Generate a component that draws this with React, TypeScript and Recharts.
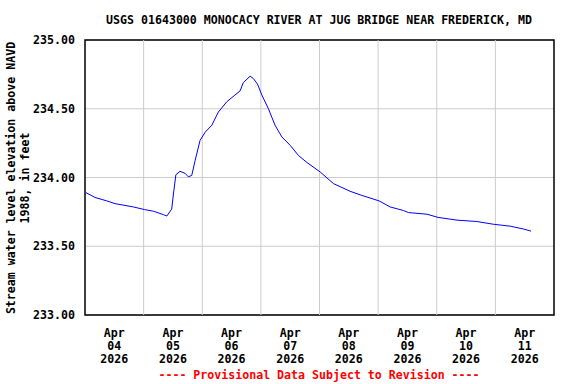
import React from "react";
import {
  LineChart,
  Line,
  XAxis,
  YAxis,
  CartesianGrid,
  ReferenceLine,
  ReferenceArea,
} from "recharts";

// hours since Apr 04 2026 00:00
const hours = [
  0.4, 4.1, 8.9, 12.3, 19.8, 24.3, 28, 32.1, 33.5, 35.5, 36.2, 37.2, 38.9, 41,
  42.3, 43.7, 45.1, 47.1, 49.2, 51.9, 54.6, 58, 61.4, 63.5, 64.8, 67.6, 68.9,
  70.6, 72.4, 75.1, 77.8, 80.6, 84, 87.4, 90.8, 96.3, 101.7, 108.5, 113.3,
  120.4, 124.9, 130.4, 132.4, 140, 144.5, 152.3, 160.4, 167.2, 174.1, 179.6,
  182.6,
];
const elevation = [
  233.89, 233.855, 233.83, 233.81, 233.786, 233.767, 233.755, 233.73, 233.72,
  233.77, 233.88, 234.02, 234.045, 234.03, 234.005, 234.015, 234.125, 234.27,
  234.33, 234.38, 234.476, 234.55, 234.6, 234.63, 234.69, 234.737, 234.72,
  234.68, 234.6, 234.5, 234.38, 234.295, 234.234, 234.16, 234.11, 234.04,
  233.956, 233.9, 233.87, 233.83, 233.786, 233.76, 233.745, 233.733, 233.71,
  233.69, 233.68, 233.66, 233.646, 233.625, 233.61,
];

const tickHours = [12, 36, 60, 84, 108, 132, 156, 180];
const tickMonth = ["Apr", "Apr", "Apr", "Apr", "Apr", "Apr", "Apr", "Apr"];
const tickDay = ["04", "05", "06", "07", "08", "09", "10", "11"];
const tickYear = ["2026", "2026", "2026", "2026", "2026", "2026", "2026", "2026"];
const dayBoundaries = [24, 48, 72, 96, 120, 144, 168];
const yTicks = [233.0, 233.5, 234.0, 234.5, 235.0];

const title = "USGS 01643000 MONOCACY RIVER AT JUG BRIDGE NEAR FREDERICK, MD";
const yLabel1 = "Stream water level elevation above NAVD";
const yLabel2 = "1988, in feet";
const footer = "---- Provisional Data Subject to Revision ----";

const data = hours.map((h, i) => ({ h, v: elevation[i] }));

const FONT = "'DejaVu Sans Mono', monospace";

const XTick = (props: any) => {
  const { x, y, payload } = props;
  const i = tickHours.indexOf(payload.value);
  return (
    <g>
      <text
        x={x}
        y={y}
        textAnchor="middle"
        fontFamily={FONT}
        fontWeight="bold"
        fontSize={11.6}
        fill="#000"
      >
        <tspan x={x} dy={14}>{tickMonth[i]}</tspan>
        <tspan x={x} dy={13}>{tickDay[i]}</tspan>
        <tspan x={x} dy={13}>{tickYear[i]}</tspan>
      </text>
    </g>
  );
};

export default function App() {
  return (
    <div style={{ position: "absolute", left: 0, top: 0, width: 576, height: 384, background: "#fff" }}>
      <LineChart
        width={576}
        height={384}
        data={data}
        margin={{ top: 40, right: 22, bottom: 0, left: 0 }}
      >
        <text
          x={319}
          y={24}
          textAnchor="middle"
          fontFamily={FONT}
          fontWeight="bold"
          fontSize={11.6}
          fill="#000"
        >
          {title}
        </text>
        <text
          transform="translate(15,178) rotate(-90)"
          textAnchor="middle"
          fontFamily={FONT}
          fontWeight="bold"
          fontSize={11.6}
          fill="#000"
        >
          <tspan x={0} y={0}>{yLabel1}</tspan>
          <tspan x={0} y={14}>{yLabel2}</tspan>
        </text>
        <text
          x={319}
          y={379}
          textAnchor="middle"
          fontFamily={FONT}
          fontWeight="bold"
          fontSize={11.6}
          fill="#ff0000"
        >
          {footer}
        </text>
        <CartesianGrid vertical={false} stroke="#cccccc" strokeWidth={1} />
        {dayBoundaries.map((d) => (
          <ReferenceLine key={d} x={d} stroke="#cccccc" strokeWidth={1} ifOverflow="extendDomain" />
        ))}
        <XAxis
          dataKey="h"
          type="number"
          domain={[0, 192]}
          ticks={tickHours}
          tick={<XTick />}
          tickLine={false}
          axisLine={false}
          height={69}
          interval={0}
        />
        <YAxis
          type="number"
          domain={[233, 235]}
          ticks={yTicks}
          tickFormatter={(v: number) => v.toFixed(2)}
          tickLine={false}
          axisLine={false}
          width={85}
          tickMargin={4}
          tick={{ fontFamily: FONT, fontWeight: "bold", fontSize: 11.6, fill: "#000" }}
          interval={0}
        />
        <Line
          type="linear"
          dataKey="v"
          stroke="#0000ff"
          strokeWidth={1}
          dot={false}
          isAnimationActive={false}
        />
        <ReferenceArea
          x1={0}
          x2={192}
          y1={233}
          y2={235}
          fill="none"
          fillOpacity={0}
          stroke="#000"
          strokeWidth={1.5}
          strokeOpacity={1}
        />
      </LineChart>
    </div>
  );
}
